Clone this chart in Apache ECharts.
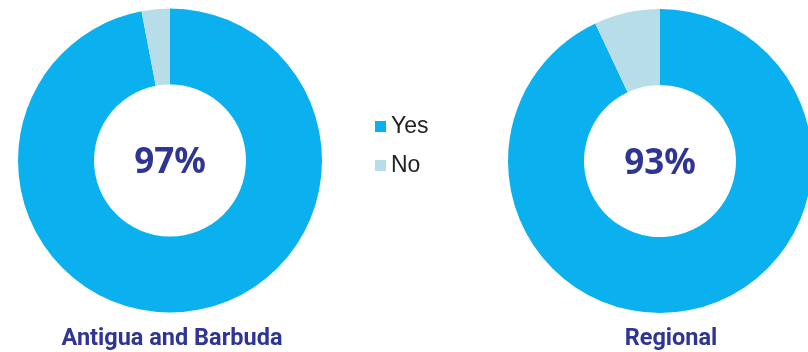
<!DOCTYPE html>
<html>
<head>
<meta charset="utf-8">
<script src="https://cdn.jsdelivr.net/npm/echarts@6/dist/echarts.min.js"></script>
<style>
  html, body { margin: 0; padding: 0; background: #fff; }
  #chart { width: 808px; height: 352px; }
</style>
</head>
<body>
<div id="chart"></div>
<script>
// Share of respondents answering Yes / No
const categories = ['Yes', 'No'];
const groups = ['Antigua and Barbuda', 'Regional'];
const yesValues = [97, 93];
const noValues = [3, 7];

const colors = ['#0BB1EE', '#B7DDE9'];
const centers = [[170, 160.5], [660, 161]];
const captionX = [172, 671];
const titleColor = '#2E3592';

const chart = echarts.init(document.getElementById('chart'), null, { renderer: 'canvas' });

const series = groups.map((g, i) => ({
  type: 'pie',
  name: g,
  center: centers[i],
  radius: [76, 152],
  startAngle: 90,
  clockwise: true,
  silent: true,
  avoidLabelOverlap: false,
  labelLine: { show: false },
  itemStyle: { borderWidth: 0 },
  data: [
    {
      name: categories[0],
      value: yesValues[i],
      label: {
        show: true,
        position: 'center',
        formatter: '{c}%',
        fontFamily: 'Noto Sans',
        fontWeight: 'bold',
        fontSize: 35,
        offset: [0, 3],
        color: titleColor
      }
    },
    { name: categories[1], value: noValues[i], label: { show: false } }
  ]
}));

chart.setOption({
  animation: false,
  color: colors,
  legend: {
    data: categories,
    orient: 'vertical',
    left: 375,
    top: 115,
    padding: 0,
    itemWidth: 11,
    itemHeight: 11,
    itemGap: 16,
    icon: 'rect',
    textStyle: { fontFamily: 'Liberation Sans', fontSize: 23, color: '#222' }
  },
  graphic: groups.map((g, i) => ({
    type: 'text',
    x: captionX[i],
    y: 339,
    style: {
      text: g,
      textAlign: 'center',
      textVerticalAlign: 'middle',
      fontFamily: 'Roboto',
      fontWeight: 'bold',
      fontSize: 23.5,
      fill: titleColor
    }
  })),
  series: series
});
</script>
</body>
</html>
